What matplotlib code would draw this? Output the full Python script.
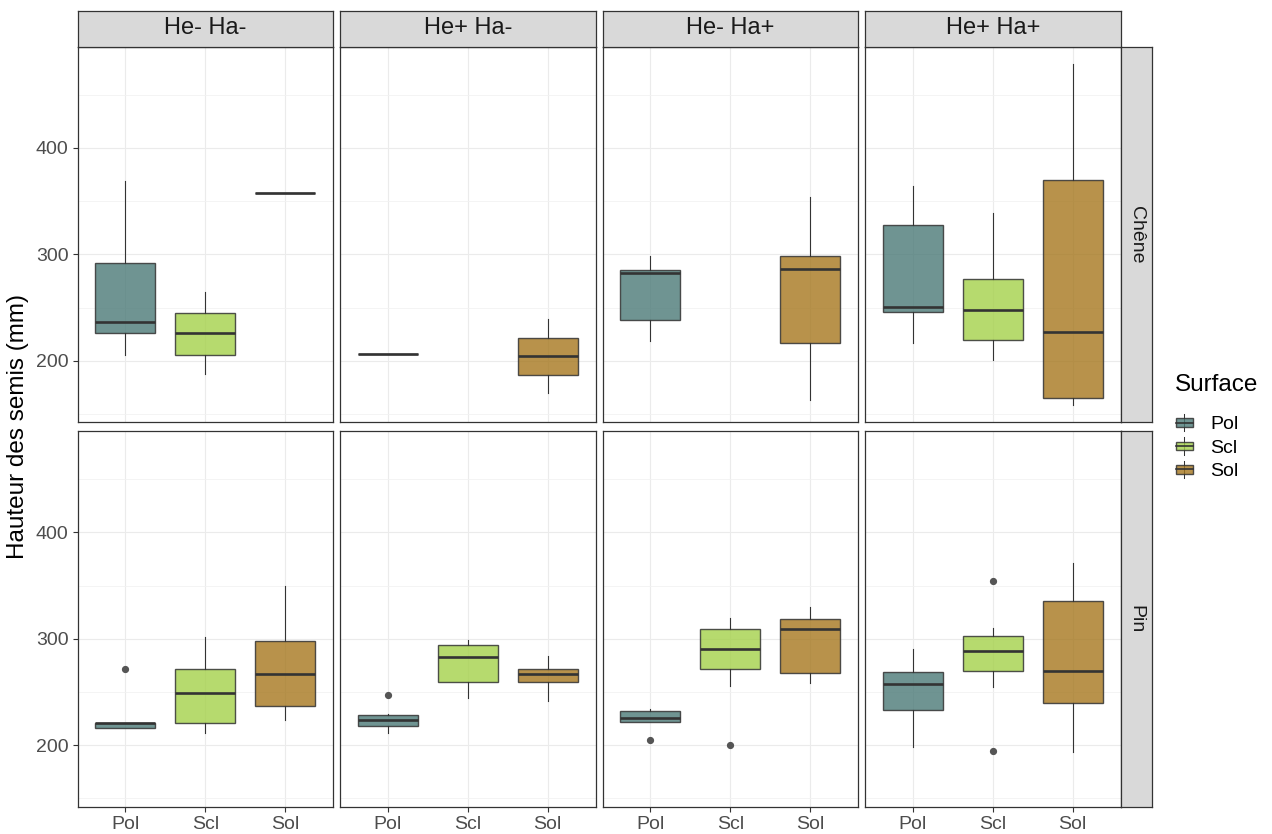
import matplotlib
matplotlib.use('Agg')
import matplotlib.pyplot as plt
from matplotlib.legend_handler import HandlerBase
from matplotlib.patches import Rectangle, Patch
from matplotlib.lines import Line2D
from matplotlib.ticker import MultipleLocator

plt.rcParams['font.family'] = ['Liberation Sans', 'DejaVu Sans']

#--- Données ---
facettes = ['He- Ha-', 'He+ Ha-', 'He- Ha+', 'He+ Ha+']
especes = ['Chêne', 'Pin']
surfaces = ['Pol', 'Scl', 'Sol']
couleurs = ['#4B7A77', '#A4D14A', '#A6771E']

# (moustache basse, Q1, médiane, Q3, moustache haute) par facette, None = absent
chene_pol = [(205.3, 226.0, 236.0, 292.2, 368.7), (206.0, 206.0, 206.0, 206.0, 206.0),
             (218.8, 238.1, 282.5, 285.7, 298.0), (216.3, 245.9, 250.6, 327.8, 364.7)]
chene_scl = [(187.3, 205.6, 225.7, 245.0, 264.7), None,
             None, (200.7, 219.4, 247.5, 276.9, 338.7)]
chene_sol = [(357.5, 357.5, 357.5, 357.5, 357.5), (169.4, 186.3, 204.0, 221.0, 238.8),
             (163.2, 216.3, 286.3, 298.0, 353.7), (158.2, 165.3, 227.2, 370.3, 479.3)]

pin_pol = [(216.5, 216.5, 220.5, 221.2, 221.2), (211.4, 218.3, 224.1, 228.5, 229.4),
           (221.7, 221.7, 225.4, 232.2, 234.0), (198.8, 233.1, 257.6, 268.4, 290.7)]
pin_scl = [(211.1, 221.0, 248.9, 271.5, 302.1), (244.6, 259.0, 282.6, 294.0, 299.0),
           (256.0, 271.5, 290.4, 309.6, 319.8), (255.0, 269.6, 288.2, 302.3, 310.3)]
pin_sol = [(223.5, 236.5, 267.1, 298.1, 350.0), (241.5, 259.0, 267.1, 272.0, 284.1),
           (258.8, 267.5, 308.9, 318.9, 330.4), (193.2, 240.0, 269.4, 335.3, 371.4)]

# valeurs extrêmes (points)
pin_pol_ext = [[271.5], [247.6], [204.6], []]
pin_scl_ext = [[], [], [200.0], [354.4, 194.4]]

donnees = {'Chêne': [chene_pol, chene_scl, chene_sol],
           'Pin': [pin_pol, pin_scl, pin_sol]}
extremes = {'Chêne': [[[]] * 4, [[]] * 4, [[]] * 4],
            'Pin': [pin_pol_ext, pin_scl_ext, [[]] * 4]}

#--- Limites de l'axe y (comme ggplot : expansion de 5 %) ---
toutes = []
for esp in especes:
    for serie, ext in zip(donnees[esp], extremes[esp]):
        for st, e in zip(serie, ext):
            if st is not None:
                toutes += [st[0], st[4]] + list(e)
vmin, vmax = min(toutes), max(toutes)
marge = 0.05 * (vmax - vmin)
ylim = (vmin - marge, vmax + marge)

#--- Mise en page (pixels) ---
W, H = 1272, 834
fig = plt.figure(figsize=(W / 100, H / 100), dpi=100)

col_x = [77.5, 340.0, 602.5, 865.0]
col_w = 255.5
row_y = [46.5, 431.0]
row_h = 375.8
gris20 = '#333333'

def rect(x, y, w, h):
    return [x / W, 1 - (y + h) / H, w / W, h / H]

for i, esp in enumerate(especes):
    for j, fac in enumerate(facettes):
        ax = fig.add_axes(rect(col_x[j], row_y[i], col_w, row_h))
        ax.set_facecolor('white')
        for s in ax.spines.values():
            s.set_color(gris20)
            s.set_linewidth(0.9)

        stats, pos, cols = [], [], []
        for k, surf in enumerate(surfaces):
            st = donnees[esp][k][j]
            if st is None:
                continue
            stats.append(dict(whislo=st[0], q1=st[1], med=st[2], q3=st[3],
                              whishi=st[4], fliers=extremes[esp][k][j]))
            pos.append(k + 1)
            cols.append(couleurs[k])

        bp = ax.bxp(stats, positions=pos, widths=0.75, patch_artist=True,
                    showcaps=False,
                    boxprops=dict(edgecolor=(0.2, 0.2, 0.2, 0.85), linewidth=1.0),
                    whiskerprops=dict(color=gris20, linewidth=0.8),
                    medianprops=dict(color=gris20, linewidth=1.9),
                    flierprops=dict(marker='o', markersize=4.2,
                                    markerfacecolor='#555555',
                                    markeredgecolor='#555555'))
        for b, c in zip(bp['boxes'], cols):
            b.set_facecolor(matplotlib.colors.to_rgba(c, 0.8))

        ax.set_xlim(0.4, 3.6)
        ax.set_ylim(*ylim)
        ax.yaxis.set_major_locator(MultipleLocator(100))
        ax.yaxis.set_minor_locator(MultipleLocator(50))
        ax.set_xticks(range(1, len(surfaces) + 1))
        ax.grid(True, which='major', color='#EBEBEB', linewidth=0.8)
        ax.grid(True, which='minor', axis='y', color='#F2F2F2', linewidth=0.6)
        ax.set_axisbelow(True)
        ax.tick_params(which='minor', length=0)
        ax.tick_params(which='major', length=3.5, width=0.8, color=gris20,
                       labelsize=14, labelcolor='#4D4D4D', pad=3)

        if i == len(especes) - 1:
            ax.set_xticklabels(surfaces)
        else:
            ax.tick_params(axis='x', length=0, labelbottom=False)
        if j != 0:
            ax.tick_params(axis='y', length=0, labelleft=False)

        # bandeau du haut
        if i == 0:
            sx = fig.add_axes(rect(col_x[j], 10.5, col_w, row_y[0] - 10.5))
            sx.set_facecolor('#D9D9D9')
            sx.set_xticks([]); sx.set_yticks([])
            for s in sx.spines.values():
                s.set_color(gris20); s.set_linewidth(0.9)
            sx.text(0.5, 0.5, fac, ha='center', va='center', fontsize=17,
                    color='#1A1A1A', transform=sx.transAxes)

    # bandeau de droite
    sy = fig.add_axes(rect(col_x[-1] + col_w, row_y[i], 31.5, row_h))
    sy.set_facecolor('#D9D9D9')
    sy.set_xticks([]); sy.set_yticks([])
    for s in sy.spines.values():
        s.set_color(gris20); s.set_linewidth(0.9)
    sy.text(0.5, 0.5, esp, ha='center', va='center', rotation=-90,
            fontsize=14, color='#1A1A1A', transform=sy.transAxes)

fig.text(18 / W, 1 - (row_y[0] + row_y[1] + row_h) / 2 / H,
         'Hauteur des semis (mm)', rotation=90, ha='center', va='center',
         fontsize=17.5, color='black')

#--- Légende ---
class BoiteHandler(HandlerBase):
    def create_artists(self, legend, orig_handle, xdescent, ydescent,
                       width, height, fontsize, trans):
        x0, y0 = -xdescent, -ydescent
        cx = x0 + width / 2
        moust = Line2D([cx, cx], [y0, y0 + height], color=gris20, lw=0.75)
        boite = Rectangle((x0 + 0.05 * width, y0 + 0.25 * height),
                          0.9 * width, 0.5 * height,
                          facecolor=orig_handle.get_facecolor(),
                          edgecolor=(0.2, 0.2, 0.2, 0.85), lw=1.0)
        med = Line2D([x0 + 0.05 * width, x0 + 0.95 * width],
                     [y0 + 0.5 * height] * 2, color=gris20, lw=1.2)
        arts = [moust, boite, med]
        for a in arts:
            a.set_transform(trans)
        return arts

fig.text(1175 / W, 1 - 385 / H, 'Surface', ha='left', va='center',
         fontsize=17.5, color='black')
poignees = [Patch(facecolor=matplotlib.colors.to_rgba(c, 0.8)) for c in couleurs]
leg = fig.legend(poignees, surfaces, loc='upper left',
                 bbox_to_anchor=(1175 / W, 1 - 414 / H), frameon=False,
                 fontsize=14, handler_map={Patch: BoiteHandler()},
                 handlelength=0.95, handleheight=1.0, handletextpad=0.85,
                 labelspacing=0.2, borderpad=0, borderaxespad=0)

fig.savefig('out.png', dpi=100)
